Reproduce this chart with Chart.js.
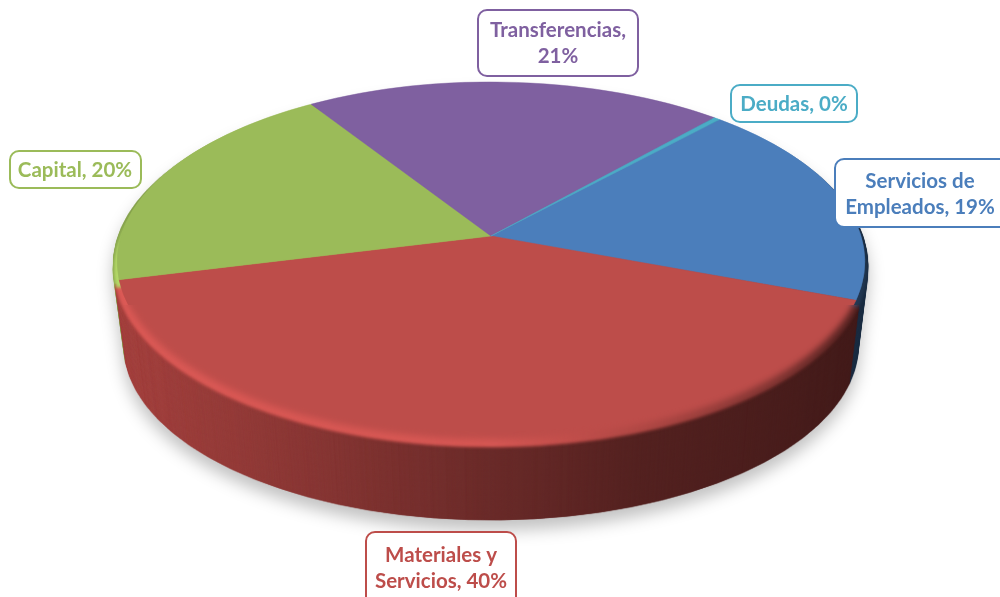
<!DOCTYPE html>
<html>
<head>
<meta charset="utf-8">
<style>
  html, body { margin: 0; padding: 0; background: #ffffff; overflow: hidden; }
  canvas { display: block; }
</style>
<script src="https://cdn.jsdelivr.net/npm/chart.js@4"></script>
</head>
<body>
<canvas id="pie" width="1000" height="597"></canvas>
<script>
// clockwise from the Deudas / Servicios edge
const categories = ["Servicios de Empleados", "Materiales y Servicios", "Capital", "Transferencias", "Deudas"];
const shares = [18.7, 40.5, 19.7, 20.8, 0.3];
const sliceColors = ["#4b7ebb", "#bd4d4a", "#9bbb59", "#7f60a0", "#4bacc6"];
const labelLines = [
    ["Servicios de", "Empleados, 19%"],
    ["Materiales y", "Servicios, 40%"],
    ["Capital, 20%"],
    ["Transferencias,", "21%"],
    ["Deudas, 0%"],
];

//label boxes, same order as categories
const labelBoxes = [
    { x: 835, y: 159, w: 175, h: 68, cx: 920, ty: 181 },
    { x: 366, y: 532, w: 150, h: 75, cx: 441, ty: 555 },
    { x: 10, y: 151, w: 131, h: 37, cx: 75, ty: 170 },
    { x: 478, y: 10, w: 160, h: 66, cx: 558, ty: 30 },
    { x: 731, y: 85, w: 126, h: 37, cx: 794, ty: 104 },
];

//top face of the pie, seen in perspective
const face = { cx: 491, left: 117, right: 865, top: 82, bottom: 441, apexY: 236, halfWidth: 370 };
const softFromY = 305;
const lineHeight = 26;
const labelFont = "700 20.5px Lato";

//homography from the unit circle to the screen: Y = (a*v + b) / (1 + c*v)
const b = face.apexY;
const c = (2 * b - face.top - face.bottom) / (face.bottom - face.top);
const a = face.bottom * (1 + c) - b;

function paintFace(target, arcs) {
    //every pixel row gets its own scale, so the circle comes out in perspective
    const R = arcs[0].outerRadius, x0 = arcs[0].x, y0 = arcs[0].y;
    for (let Y = face.top - 1; Y <= face.bottom + 1; Y++) {
        const yc = Y + 0.5;
        const v = (yc - b) / (a - c * yc);
        const w = 1 + c * v;
        const sx = face.halfWidth / (w * R);
        const sy = ((a - c * b) / (w * w)) / R;
        target.save();
        target.beginPath();
        target.rect(0, Y, 1000, 1);
        target.clip();
        target.setTransform(sx, 0, 0, sy, face.cx - sx * x0, yc - sy * (y0 + R * v));
        arcs.forEach(arc => arc.draw(target));
        target.restore();
    }
}

function blankLayer() {
    const out = document.createElement("canvas");
    out.width = 1000;
    out.height = 597;
    return out;
}

//gradient runs across the screen, only over what is already painted
function tint(layer, stops) {
    const octx = layer.getContext("2d");
    octx.globalCompositeOperation = "source-atop";
    const grad = octx.createLinearGradient(113, 0, 868, 0);
    stops.forEach(s => grad.addColorStop(s[0], s[1]));
    octx.fillStyle = grad;
    octx.fillRect(0, 0, 1000, 597);
    octx.globalCompositeOperation = "source-over";
}

//draws the face image so its box lands on the given box
function stamp(ctx, src, left, top, right, bottom) {
    const sx = (right - left) / (face.right - face.left);
    const sy = (bottom - top) / (face.bottom - face.top);
    ctx.drawImage(src, left - face.left * sx, top - face.top * sy, 1000 * sx, 597 * sy);
}

const pie3d = {
    id: "pie3d",
    beforeDatasetsDraw(chart) {
        const ctx = chart.ctx;
        const arcs = chart.getDatasetMeta(0).data;

        const flat = blankLayer();
        paintFace(flat.getContext("2d"), arcs);

        //side wall: the face stamped from the bottom ellipse up to the rim
        const wall = blankLayer();
        const wctx = wall.getContext("2d");
        const layers = 160;
        for (let i = layers; i >= 0; i--) {
            const t = i / layers;
            stamp(wctx, flat, 113 + 11 * t, 84 + 88 * t, 868 - 10 * t, 446 + 74 * t);
        }
        tint(wall, [
            [0, "rgba(0,0,0,0.12)"],
            [0.25, "rgba(0,0,0,0.27)"],
            [0.5, "rgba(0,0,0,0.44)"],
            [0.7, "rgba(0,0,0,0.56)"],
            [0.9, "rgba(0,0,0,0.62)"],
            [1, "rgba(0,0,0,0.66)"],
        ]);

        const rim = blankLayer();
        const rctx = rim.getContext("2d");
        rctx.filter = "brightness(1.16)";
        rctx.drawImage(flat, 0, 0);
        rctx.filter = "none";
        tint(rim, [
            [0, "rgba(0,0,0,0)"],
            [0.5, "rgba(0,0,0,0.02)"],
            [0.72, "rgba(0,0,0,0.22)"],
            [0.88, "rgba(0,0,0,0.42)"],
            [1, "rgba(0,0,0,0.65)"],
        ]);

        ctx.save();
        ctx.shadowColor = "rgba(0,0,0,0.24)";
        ctx.shadowBlur = 16;
        ctx.shadowOffsetY = 10;
        ctx.drawImage(wall, 0, 0);
        ctx.restore();

        //bevel, then the top face: crisp up to the slice edges, soft into the bevel below them
        ctx.save();
        ctx.filter = "blur(1.5px)";
        stamp(ctx, rim, 114, 92, 867, 447);
        ctx.restore();

        ctx.save();
        ctx.beginPath();
        ctx.rect(0, 0, 1000, softFromY);
        ctx.clip();
        ctx.filter = "blur(0.7px)";
        stamp(ctx, flat, face.left, face.top, face.right, face.bottom);
        ctx.restore();

        ctx.save();
        ctx.beginPath();
        ctx.rect(0, softFromY, 1000, 597 - softFromY);
        ctx.clip();
        ctx.filter = "blur(3px)";
        stamp(ctx, flat, face.left, face.top, face.right, face.bottom - 2);
        ctx.restore();
        return false;
    },
    afterDraw(chart) {
        const ctx = chart.ctx;
        ctx.save();
        ctx.textAlign = "center";
        ctx.textBaseline = "middle";
        ctx.font = labelFont;
        categories.forEach((name, i) => {
            const box = labelBoxes[i];
            ctx.beginPath();
            ctx.roundRect(box.x, box.y, box.w, box.h, 9);
            ctx.fillStyle = "#ffffff";
            ctx.fill();
            ctx.lineWidth = 2;
            ctx.strokeStyle = sliceColors[i];
            ctx.stroke();
            ctx.fillStyle = sliceColors[i];
            labelLines[i].forEach((line, k) => ctx.fillText(line, box.cx, box.ty + k * lineHeight));
        });
        ctx.restore();
    },
};

new Chart(document.getElementById("pie"), {
    type: "pie",
    plugins: [pie3d],
    data: {
        labels: categories,
        datasets: [{
            data: shares,
            backgroundColor: sliceColors,
            borderColor: sliceColors,
            borderWidth: 0.6,
        }],
    },
    options: {
        responsive: false,
        animation: false,
        rotation: 43,
        plugins: {
            legend: { display: false },
            tooltip: { enabled: false },
        },
    },
});
</script>
</body>
</html>
